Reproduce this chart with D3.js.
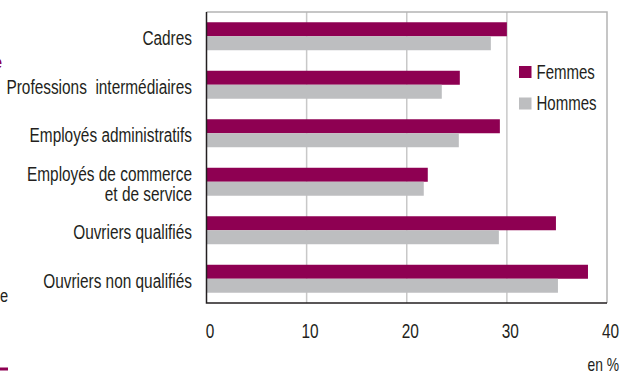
<!DOCTYPE html>
<html>
<head>
<meta charset="utf-8">
<script src="https://cdn.jsdelivr.net/npm/d3@7"></script>
<style>
  html, body { margin: 0; padding: 0; background: #fff; }
  svg { display: block; }
  text { font-family: "Liberation Sans", Arial, sans-serif; fill: #231f20; white-space: pre; }
</style>
</head>
<body>
<svg id="chart" width="621" height="373"></svg>
<script>
// Catégories socioprofessionnelles (chaque libellé peut tenir sur plusieurs lignes)
const categories = [
  "Cadres",
  "Professions  intermédiaires",
  "Employés administratifs",
  "Employés de commerce\net de service",
  "Ouvriers qualifiés",
  "Ouvriers non qualifiés"
];
const series = ["Femmes", "Hommes"];
const femmes = [30.0, 25.3, 29.3, 22.1, 34.9, 38.1];
const hommes = [28.4, 23.5, 25.2, 21.7, 29.2, 35.1];
const xTicks = [0, 10, 20, 30, 40];
const unitLabel = "en %";

const colors = { Femmes: "#8e0052", Hommes: "#bdbec0" };
// Horizontal squeeze giving a condensed look to the sans-serif face
const NARROW = 0.77;
const FONT = 20;

const svg = d3.select("#chart");
const plot = { left: 206.5, right: 607, top: 12, bottom: 303 };

const x = d3.scaleLinear().domain([0, 40]).range([plot.left, plot.right]);
const y = d3.scaleBand().domain(categories)
  .range([plot.top, plot.bottom])
  .paddingInner(0.423).paddingOuter(0.2115);
const ySub = d3.scaleBand().domain(series).range([0, y.bandwidth()]);

function narrowText(sel, tx, ty, size) {
  return sel.append("text")
    .attr("transform", `translate(${tx},${ty}) scale(${NARROW},1)`)
    .style("font-size", size + "px");
}

// Fragments of the neighbouring page content at the left edge
svg.append("text").attr("x", -9.5).attr("y", 69)
  .style("font-weight", "bold").style("font-size", "21px")
  .style("fill", "#8e0052").text("e");
narrowText(svg, 0, 302, 19).text("e");
svg.append("rect").attr("x", 0).attr("y", 367.5).attr("width", 8).attr("height", 3)
  .attr("fill", "#8e0052");

// Vertical gridlines
svg.append("g").selectAll("line")
  .data(xTicks.filter(d => d > 0 && d < 40))
  .join("line")
  .attr("x1", d => x(d)).attr("x2", d => x(d))
  .attr("y1", plot.top).attr("y2", plot.bottom)
  .attr("stroke", "#c8c8c8").attr("stroke-width", 1.5);

// Plot frame: light top/right border
svg.append("path")
  .attr("d", `M${plot.left},${plot.top}H${x(40)}V${plot.bottom}`)
  .attr("fill", "none").attr("stroke", "#b4b4b4").attr("stroke-width", 1.5);

// Bars
const rows = categories.map((c, i) => ({ cat: c, Femmes: femmes[i], Hommes: hommes[i] }));
const groups = svg.append("g").selectAll("g")
  .data(rows).join("g")
  .attr("transform", d => `translate(0,${y(d.cat)})`);
groups.selectAll("rect")
  .data(d => series.map(s => ({ s, v: d[s] })))
  .join("rect")
  .attr("x", x(0))
  .attr("y", d => ySub(d.s))
  .attr("width", d => x(d.v) - x(0))
  .attr("height", ySub.bandwidth())
  .attr("fill", d => colors[d.s]);

// Axes lines (left and bottom)
svg.append("path")
  .attr("d", `M${plot.left},${plot.top}V${plot.bottom}H${x(40)}`)
  .attr("fill", "none").attr("stroke", "#231f20").attr("stroke-width", 1.5);

// X tick labels
const xAxis = d3.axisBottom(x).tickValues(xTicks).tickSize(0).tickPadding(0);
const gx = svg.append("g").attr("transform", `translate(3,${plot.bottom})`).call(xAxis);
gx.select(".domain").remove();
gx.selectAll("text")
  .attr("dy", null).attr("y", null)
  .attr("transform", `translate(0,34.5) scale(${NARROW},1)`)
  .style("font-size", FONT + "px")
  .style("font-family", null)
  .attr("fill", "#231f20");

// Category labels
const yAxis = d3.axisLeft(y).tickSize(0).tickFormat("");
const gy = svg.append("g").attr("transform", `translate(${plot.left},0)`).call(yAxis);
gy.select(".domain").remove();
gy.selectAll(".tick").each(function (d) {
  const lines = d.split("\n");
  const t = narrowText(d3.select(this), 192 - plot.left, 0, FONT)
    .attr("text-anchor", "end");
  const lh = 20.5;
  lines.forEach((ln, i) => {
    t.append("tspan")
      .attr("x", 0)
      .attr("y", (i - (lines.length - 1) / 2) * lh + 2)
      .attr("dy", "0.35em")
      .text(ln);
  });
});

// Legend
const legend = svg.append("g");
series.forEach((s, i) => {
  const ly = 66 + i * 31.5;
  legend.append("rect").attr("x", 519).attr("y", ly)
    .attr("width", 12.5).attr("height", 12).attr("fill", colors[s]);
  narrowText(legend, 536.5, ly + 6, 19.5).attr("dy", "0.35em").text(s);
});

// Unit label
narrowText(svg, 619, 371, 18).attr("text-anchor", "end").text(unitLabel);
</script>
</body>
</html>
